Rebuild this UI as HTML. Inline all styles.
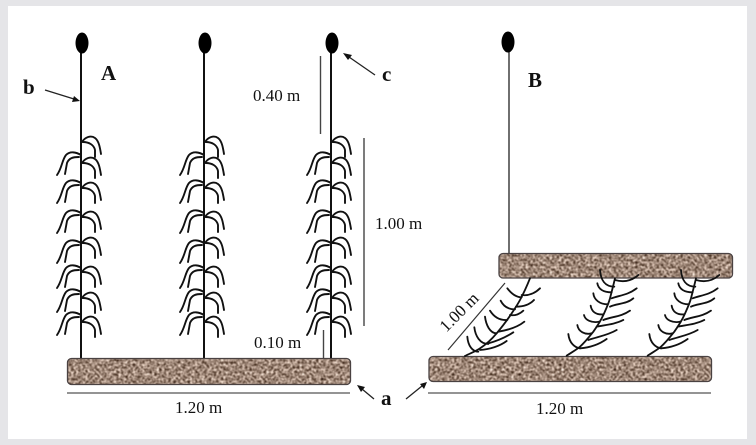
<!DOCTYPE html>
<html><head><meta charset="utf-8"><style>
html,body{margin:0;padding:0;background:#e5e5e8}
svg{display:block}
text{font-family:"Liberation Serif",serif;fill:#111}
</style></head><body>
<svg width="756" height="445" viewBox="0 0 756 445" xmlns="http://www.w3.org/2000/svg">
<defs>
<filter id="soil" x="0" y="0" width="100%" height="100%" color-interpolation-filters="sRGB">
<feTurbulence type="fractalNoise" baseFrequency="0.42" numOctaves="2" seed="7" result="n"/>
<feColorMatrix in="n" type="matrix" values="1.5 0 0 0 -0.13  1.5 0 0 0 -0.22  1.5 0 0 0 -0.28  0 0 0 0 1" result="c"/>
<feGaussianBlur in="c" stdDeviation="0.4" result="b"/>
<feComposite in="b" in2="SourceAlpha" operator="in"/>
</filter>
<g id="r" fill="none" stroke="#111" stroke-width="1.900" stroke-linecap="round" stroke-linejoin="round">
<path d="M1 0C4-5 10-7 14-4C18-1 19 6 20 12"/>
<path d="M2 0C8 0 13 3 14 8L14 15"/>
</g>
<g id="l" fill="none" stroke="#111" stroke-width="1.900" stroke-linecap="round" stroke-linejoin="round">
<path d="M0 0C-5-3-11-4-15 0C-19 5-19 13-24 20"/>
<path d="M-2 2C-8 2-12 3-14 8L-16 19"/>
</g>
<g id="plant">
<use href="#r" y="142"/><use href="#r" y="163"/><use href="#r" y="188"/><use href="#r" y="217"/>
<use href="#r" y="243"/><use href="#r" y="272"/><use href="#r" y="298"/><use href="#r" y="322"/>
<use href="#l" y="155"/><use href="#l" y="183"/><use href="#l" y="213"/><use href="#l" y="243"/>
<use href="#l" y="268"/><use href="#l" y="292"/><use href="#l" y="315"/>
<line x1="0" y1="45" x2="0" y2="358" stroke="#111" stroke-width="2"/>
<ellipse cx="1" cy="43" rx="6.500" ry="10.500" fill="#000"/>
</g>
<g id="slant2" fill="none" stroke="#111" stroke-width="5.500" stroke-linecap="round" stroke-linejoin="round">
<path d="M20 272C35 262 48 255 60 245C75 232 88 215 100 200C112 183 122 168 130 150C138 132 145 118 150 100C155 80 160 62 165 40"/>
<path d="M60 250C45 248 28 235 25 207M95 205C75 210 55 200 52 180M118 170C95 175 75 165 72 150M130 148C108 150 95 140 92 122M143 118C120 118 102 105 100 85M155 82C130 82 115 72 112 55M163 65C135 65 122 45 120 15"/>
<path d="M60 250C85 248 115 240 140 222M85 225C115 215 145 210 170 195M110 185C135 180 165 178 190 165M130 165C155 155 185 155 210 137M150 125C170 115 200 118 220 100M155 100C175 92 205 90 230 70M165 45C190 52 215 48 235 30"/>
</g>
</defs>
<rect x="8" y="6" width="739" height="433" fill="#fff"/>

<g id="A">
<use href="#plant" x="81"/>
<use href="#plant" x="204"/>
<use href="#plant" x="331"/>
<rect x="67.500" y="358.500" width="283" height="26" rx="4" filter="url(#soil)"/>
<rect x="67.500" y="358.500" width="283" height="26" rx="4" fill="none" stroke="#4a4242" stroke-width="1.300"/>
<line x1="67" y1="393" x2="350" y2="393" stroke="#555" stroke-width="1.300"/>
<line x1="320.500" y1="56" x2="320.500" y2="134" stroke="#444" stroke-width="1.400"/>
<line x1="364" y1="138" x2="364" y2="326" stroke="#444" stroke-width="1.400"/>
<line x1="323.500" y1="330" x2="323.500" y2="358" stroke="#444" stroke-width="1.400"/>
</g>

<g id="B">
<line x1="509" y1="45" x2="509" y2="254" stroke="#222" stroke-width="1.300"/>
<ellipse cx="508" cy="42" rx="6.500" ry="10.500" fill="#000"/>
<rect x="499" y="253.500" width="233.500" height="24.500" rx="4" filter="url(#soil)"/>
<rect x="499" y="253.500" width="233.500" height="24.500" rx="4" fill="none" stroke="#4a4242" stroke-width="1.300"/>
<rect x="429" y="356.500" width="282.500" height="25" rx="4" filter="url(#soil)"/>
<rect x="429" y="356.500" width="282.500" height="25" rx="4" fill="none" stroke="#4a4242" stroke-width="1.300"/>
<line x1="428" y1="393" x2="711" y2="393" stroke="#555" stroke-width="1.300"/>
<line x1="448" y1="350" x2="505" y2="283" stroke="#333" stroke-width="1.200"/>
<g transform="translate(430 270) scale(.3333)">
<g fill="none" stroke="#111" stroke-width="5.500" stroke-linecap="round" stroke-linejoin="round">
<path d="M105 258C120 250 135 245 150 235C170 222 185 208 200 190C215 172 232 150 245 130C255 115 262 105 270 90C282 68 292 45 300 25"/>
<path d="M145 245C128 245 114 228 112 200M175 222C150 222 136 198 133 172M200 190C180 190 168 165 165 140M232 150C205 152 190 138 180 122M255 118C232 118 220 108 212 92M275 82C258 82 245 72 232 55"/>
<path d="M150 240C180 238 210 228 230 213M175 220C205 212 230 200 250 187M205 185C235 180 262 172 283 155M240 135C255 138 270 132 280 122M258 110C280 110 298 105 312 90M275 75C295 78 315 70 330 55"/>
</g>
</g>
<g transform="translate(560 265) scale(.3333)">
<use href="#slant2"/>
<use href="#slant2" x="243"/>
</g>
</g>

<g fill="none" stroke="#222" stroke-width="1.300">
<line x1="45" y1="90" x2="74" y2="99"/>
<line x1="375" y1="75" x2="349" y2="57"/>
<line x1="374" y1="399" x2="362" y2="389"/>
<line x1="406" y1="399" x2="422" y2="386"/>
</g>
<g fill="#111">
<polygon points="80,101 72,102 74,96"/>
<polygon points="343,53 352,55 348,60"/>
<polygon points="357,385 365,387 361,392"/>
<polygon points="427,382 424,389 420,384"/>
</g>

<text x="101" y="80" font-size="21" font-weight="bold">A</text>
<text x="528" y="87" font-size="21" font-weight="bold">B</text>
<text x="23" y="94" font-size="21" font-weight="bold">b</text>
<text x="382" y="81" font-size="21" font-weight="bold">c</text>
<text x="381" y="405" font-size="21" font-weight="bold">a</text>
<text x="253" y="101" font-size="17">0.40 m</text>
<text x="375" y="229" font-size="17">1.00 m</text>
<text x="254" y="348" font-size="17">0.10 m</text>
<text x="175" y="413" font-size="17">1.20 m</text>
<text x="536" y="414" font-size="17">1.20 m</text>
<text x="0" y="0" font-size="17" text-anchor="middle" transform="translate(463 316) rotate(-45)">1.00 m</text>
</svg>
</body></html>
